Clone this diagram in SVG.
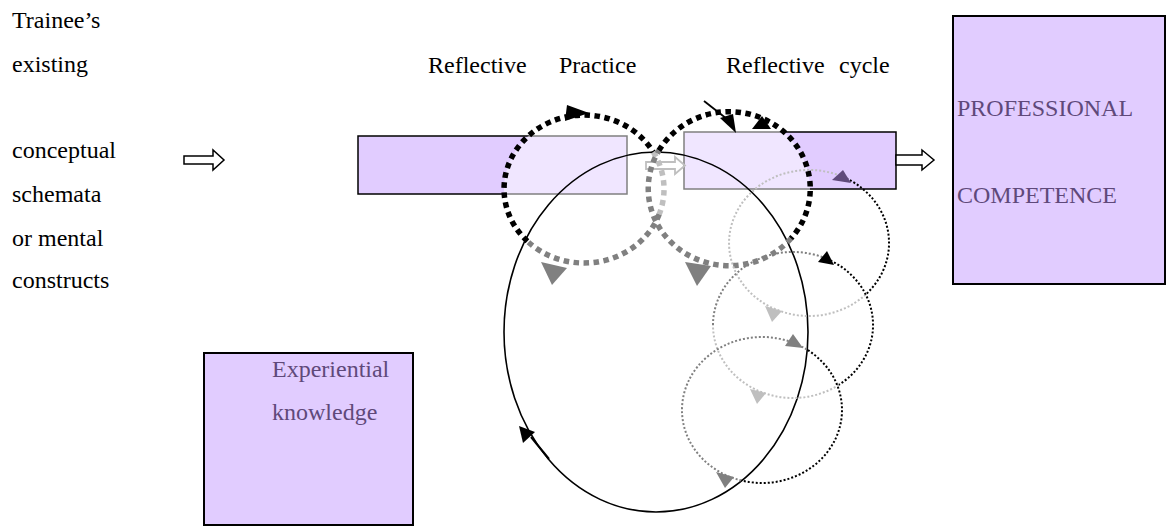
<svg xmlns="http://www.w3.org/2000/svg" width="1172" height="527" viewBox="0 0 1172 527">
<style>
  text { font-family: "Liberation Serif", "Times New Roman", serif; font-size: 24px; fill: #000; }
  .pt { fill: #5F497A; }
  .box { fill: #E1CCFF; stroke: #000; stroke-width: 1.5; }
  .bigbox { fill: #E1CCFF; stroke: #000; stroke-width: 2; }
  .veil { fill: #FFFFFF; fill-opacity: 0.5; stroke: none; }
  .thick { fill: none; stroke-width: 5.5; stroke-dasharray: 5.5 4.5; }
  .thin { fill: none; stroke-width: 2; stroke-dasharray: 2 2; }
  .blk { stroke: #000; }
  .gry { stroke: #808080; }
  .lgr { stroke: #BFBFBF; }
  .block { fill: #FFFFFF; stroke: #000; stroke-width: 1.5; }
</style>
<rect width="1172" height="527" fill="#FFFFFF"/>

<g id="trainee-text">
  <text x="12" y="28">Trainee’s</text>
  <text x="12" y="72">existing</text>
  <text x="12" y="158">conceptual</text>
  <text x="12" y="202">schemata</text>
  <text x="12" y="246">or mental</text>
  <text x="12" y="288">constructs</text>
</g>

<g id="labels">
  <text x="428" y="73">Reflective</text>
  <text x="559" y="73">Practice</text>
  <text x="726" y="73">Reflective</text>
  <text x="839" y="73">cycle</text>
</g>

<g id="competence">
  <rect class="bigbox" x="953" y="16" width="212" height="268"/>
  <text class="pt" x="957" y="116">PROFESSIONAL</text>
  <text class="pt" x="957" y="203">COMPETENCE</text>
</g>

<g id="experiential">
  <rect class="bigbox" x="204" y="353" width="209" height="172"/>
  <text class="pt" x="272" y="377">Experiential</text>
  <text class="pt" x="272" y="420">knowledge</text>
</g>

<g id="practice-bar">
  <rect class="box" x="358" y="136" width="269" height="58"/>
</g>
<g id="cycle-bar">
  <rect class="box" x="684" y="132" width="212" height="57"/>
</g>

<g id="veils">
  <ellipse class="veil" cx="584" cy="189" rx="80" ry="74"/>
  <ellipse class="veil" cx="729" cy="189" rx="81" ry="77"/>
</g>

<g id="connectors">
  <path class="block" d="M184,156 H213 V150 L224,160 L213,170 V164 H184 Z"/>
  <path class="block" d="M896,155 H922 V150 L934,160 L922,170 V165 H896 Z"/>
  <path d="M646,162 H675 V157 L685,165.5 L675,174 V169 H646 Z" fill="none" stroke="#BFBFBF" stroke-width="1.8"/>

  <ellipse cx="656" cy="332" rx="152" ry="180" fill="none" stroke="#000" stroke-width="1.6"/>
  <line x1="531" y1="437" x2="549" y2="459" stroke="#000" stroke-width="2"/>
  <polygon points="519,426 535,432 523,443" fill="#000"/>

  <path class="thick blk" d="M527.4,241.3 A80,74 0 1 1 653.3,152"/>
  <path class="thick lgr" d="M653.3,152 A80,74 0 0 1 659.2,214.3"/>
  <path class="thick gry" d="M659.2,214.3 A80,74 0 0 1 527.4,241.3"/>
  <polygon points="567,105 589,113 565,121" fill="#000"/>
  <polygon points="541,262 567,268 552,285" fill="#808080"/>

  <path class="thick gry" d="M791,238.5 A81,77 0 0 1 658.9,150.5"/>
  <path class="thick blk" d="M658.9,150.5 A81,77 0 1 1 791,238.5"/>
  <polygon points="762,116 752,129 771,129" fill="#000"/>
  <polygon points="685,262 711,266 697,286" fill="#808080"/>

  <line x1="704" y1="101" x2="727" y2="119" stroke="#000" stroke-width="1.8"/>
  <polygon points="720,118 733,114 736,133" fill="#000"/>

  <path class="thin lgr" d="M865.6,294.6 A80,73 0 1 1 842.8,176.8"/>
  <path class="thin blk" d="M842.8,176.8 A80,73 0 0 1 865.6,294.6"/>
  <polygon points="843,170 832,180 851,183" fill="#604A7B"/>
  <polygon points="765,306 782,311 772,322" fill="#BFBFBF"/>

  <path class="thin lgr" d="M838.9,384.8 A80,73 0 0 1 713,325"/>
  <path class="thin gry" d="M713,325 A80,73 0 0 1 826.8,258.8"/>
  <path class="thin blk" d="M826.8,258.8 A80,73 0 0 1 838.9,384.8"/>
  <polygon points="827,251 818,262 834,265" fill="#000"/>
  <polygon points="750,389 766,393 757,404" fill="#BFBFBF"/>

  <path class="thin gry" d="M741.3,480.5 A80,73 0 1 1 807.9,350.2"/>
  <path class="thin blk" d="M807.9,350.2 A80,73 0 0 1 741.3,480.5"/>
  <polygon points="793,334 785,346 803,348" fill="#808080"/>
  <polygon points="716,472 734,477 725,488" fill="#808080"/>
</g>
</svg>
